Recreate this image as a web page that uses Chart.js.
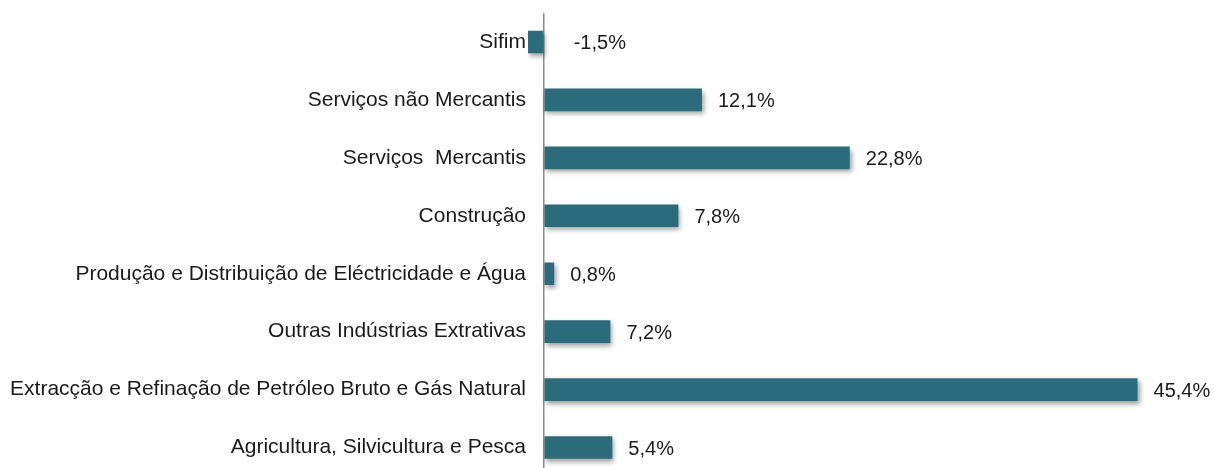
<!DOCTYPE html>
<html>
<head>
<meta charset="utf-8">
<script src="https://cdn.jsdelivr.net/npm/chart.js@4"></script>
<style>
  html, body { margin: 0; padding: 0; background: #ffffff; overflow: hidden; }
  canvas { display: block; }
</style>
</head>
<body>
<canvas id="c" width="1214" height="480" style="width:1214px;height:480px"></canvas>
<script>
// Categories, top to bottom
const categories = [
  "Sifim",
  "Serviços não Mercantis",
  "Serviços  Mercantis",
  "Construção",
  "Produção e Distribuição de Eléctricidade e Água",
  "Outras Indústrias Extrativas",
  "Extracção e Refinação de Petróleo Bruto e Gás Natural",
  "Agricultura, Silvicultura e Pesca"
];
// Bar lengths as drawn in the picture (percent)
const barLengths = [-1.2, 12.1, 23.4, 10.3, 0.8, 5.1, 45.4, 5.25];
// Data label texts as printed in the picture
const valueLabels = ["-1,5%", "12,1%", "22,8%", "7,8%", "0,8%", "7,2%", "45,4%", "5,4%"];
// Value axis range
const axisMin = -1.2;
const axisMax = 50;

const FONT = "'Liberation Sans', Arial, sans-serif";

const barDecor = {
  id: 'barDecor',
  beforeDatasetsDraw(chart) {
    const ctx = chart.ctx;
    ctx.save();
    ctx.shadowColor = 'rgba(0,0,0,0.38)';
    ctx.shadowBlur = 5;
    ctx.shadowOffsetX = 2;
    ctx.shadowOffsetY = 3;
  },
  afterDatasetsDraw(chart) {
    const ctx = chart.ctx;
    ctx.restore();
    const meta = chart.getDatasetMeta(0);
    const zeroX = chart.scales.x.getPixelForValue(0);
    ctx.save();
    ctx.fillStyle = '#1a1a1a';
    ctx.font = '20px ' + FONT;
    ctx.textAlign = 'left';
    ctx.textBaseline = 'middle';
    meta.data.forEach((bar, i) => {
      const v = barLengths[i];
      const x = v >= 0 ? bar.x + 16 : zeroX + 30;
      ctx.fillText(valueLabels[i], x, bar.y + 2);
    });
    ctx.restore();
  }
};

new Chart(document.getElementById('c'), {
  type: 'bar',
  data: {
    labels: categories,
    datasets: [{
      data: barLengths,
      backgroundColor: '#2c6b7b',
      borderWidth: 0,
      categoryPercentage: 1.0,
      barPercentage: 0.39
    }]
  },
  options: {
    indexAxis: 'y',
    responsive: false,
    maintainAspectRatio: false,
    animation: false,
    devicePixelRatio: 1,
    layout: { padding: { top: 13, bottom: 3.5, left: 0, right: 16.3 } },
    plugins: {
      legend: { display: false },
      title: { display: false },
      tooltip: { enabled: false }
    },
    scales: {
      x: {
        type: 'linear',
        min: axisMin,
        max: axisMax,
        afterBuildTicks: (s) => { s.ticks = [{ value: 0 }]; },
        ticks: { display: false },
        border: { display: false },
        grid: { drawTicks: false, color: '#8a8a8a', lineWidth: 1.5 }
      },
      y: {
        afterFit: (s) => { s.width = 528; s.paddingTop = 0; s.paddingBottom = 0; },
        ticks: {
          color: '#1a1a1a',
          padding: 2,
          font: { family: FONT, size: 21 }
        },
        border: { display: false },
        grid: { display: false, drawTicks: false }
      }
    }
  },
  plugins: [barDecor]
});
</script>
</body>
</html>
